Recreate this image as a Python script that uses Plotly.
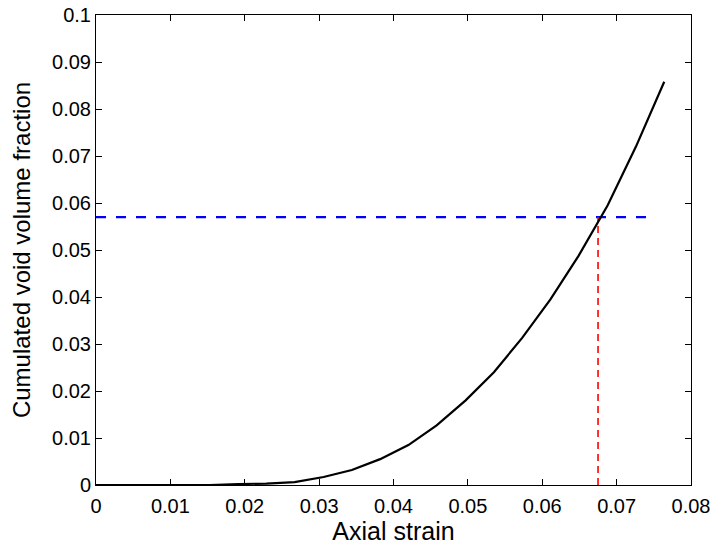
import plotly.graph_objects as go

strain = [0, 0.0038, 0.0076, 0.0115, 0.0153, 0.0191, 0.0229, 0.0267, 0.0306, 0.0344,
          0.0382, 0.0420, 0.0458, 0.0497, 0.0535, 0.0573, 0.0611, 0.0649, 0.0688, 0.0726, 0.0764]
void_frac = [0, 0, 0, 0, 0, 0.0002, 0.0003, 0.0006, 0.0017, 0.0032,
             0.0055, 0.0085, 0.0127, 0.0180, 0.0240, 0.0313, 0.0395, 0.0488, 0.0595, 0.0720, 0.0858]

threshold_x = [0, 0.075]
threshold_y = [0.057, 0.057]
critical_x = [0.0675, 0.0675]
critical_y = [0, 0.057]

x_ticks = [0, 0.01, 0.02, 0.03, 0.04, 0.05, 0.06, 0.07, 0.08]
x_ticktext = ["0", "0.01", "0.02", "0.03", "0.04", "0.05", "0.06", "0.07", "0.08"]
y_ticks = [0, 0.01, 0.02, 0.03, 0.04, 0.05, 0.06, 0.07, 0.08, 0.09, 0.1]
y_ticktext = ["0", "0.01", "0.02", "0.03", "0.04", "0.05", "0.06", "0.07", "0.08", "0.09", "0.1"]

fig = go.Figure()
fig.add_trace(go.Scatter(x=threshold_x, y=threshold_y, mode="lines",
                         line=dict(color="#0000ff", width=2.2, dash="10px,10px")))
fig.add_trace(go.Scatter(x=critical_x, y=critical_y, mode="lines",
                         line=dict(color="#ff0000", width=1.6, dash="7px,5px")))
fig.add_trace(go.Scatter(x=strain, y=void_frac, mode="lines",
                         line=dict(color="black", width=2.2)))

axis_common = dict(showgrid=False, zeroline=False, showline=True, linecolor="black",
                   linewidth=1, mirror="ticks", ticks="inside", ticklen=6, automargin=False,
                   ticklabeloverflow="allow",
                   tickcolor="black", tickfont=dict(family="Liberation Sans, Arial", size=20, color="black"))

fig.update_layout(
    width=716, height=548,
    margin=dict(l=96, r=25, t=15, b=63),
    paper_bgcolor="white", plot_bgcolor="white",
    showlegend=False,
    font=dict(family="Liberation Sans, Arial", color="black"),
    xaxis=dict(range=[0, 0.08], tickvals=x_ticks, ticktext=x_ticktext, ticklabelstandoff=3,
               title=dict(text="Axial strain", font=dict(size=25), standoff=6), **axis_common),
    yaxis=dict(range=[0, 0.1], tickvals=y_ticks, ticktext=y_ticktext,
               title=dict(text="Cumulated void volume fraction", font=dict(size=24), standoff=14), **axis_common),
)

# Remove the browser's default 8px body margin so the figure sits at the page origin.
fig.write_html("out.html", config={"displayModeBar": False},
               post_script="document.body.style.margin='0';")
